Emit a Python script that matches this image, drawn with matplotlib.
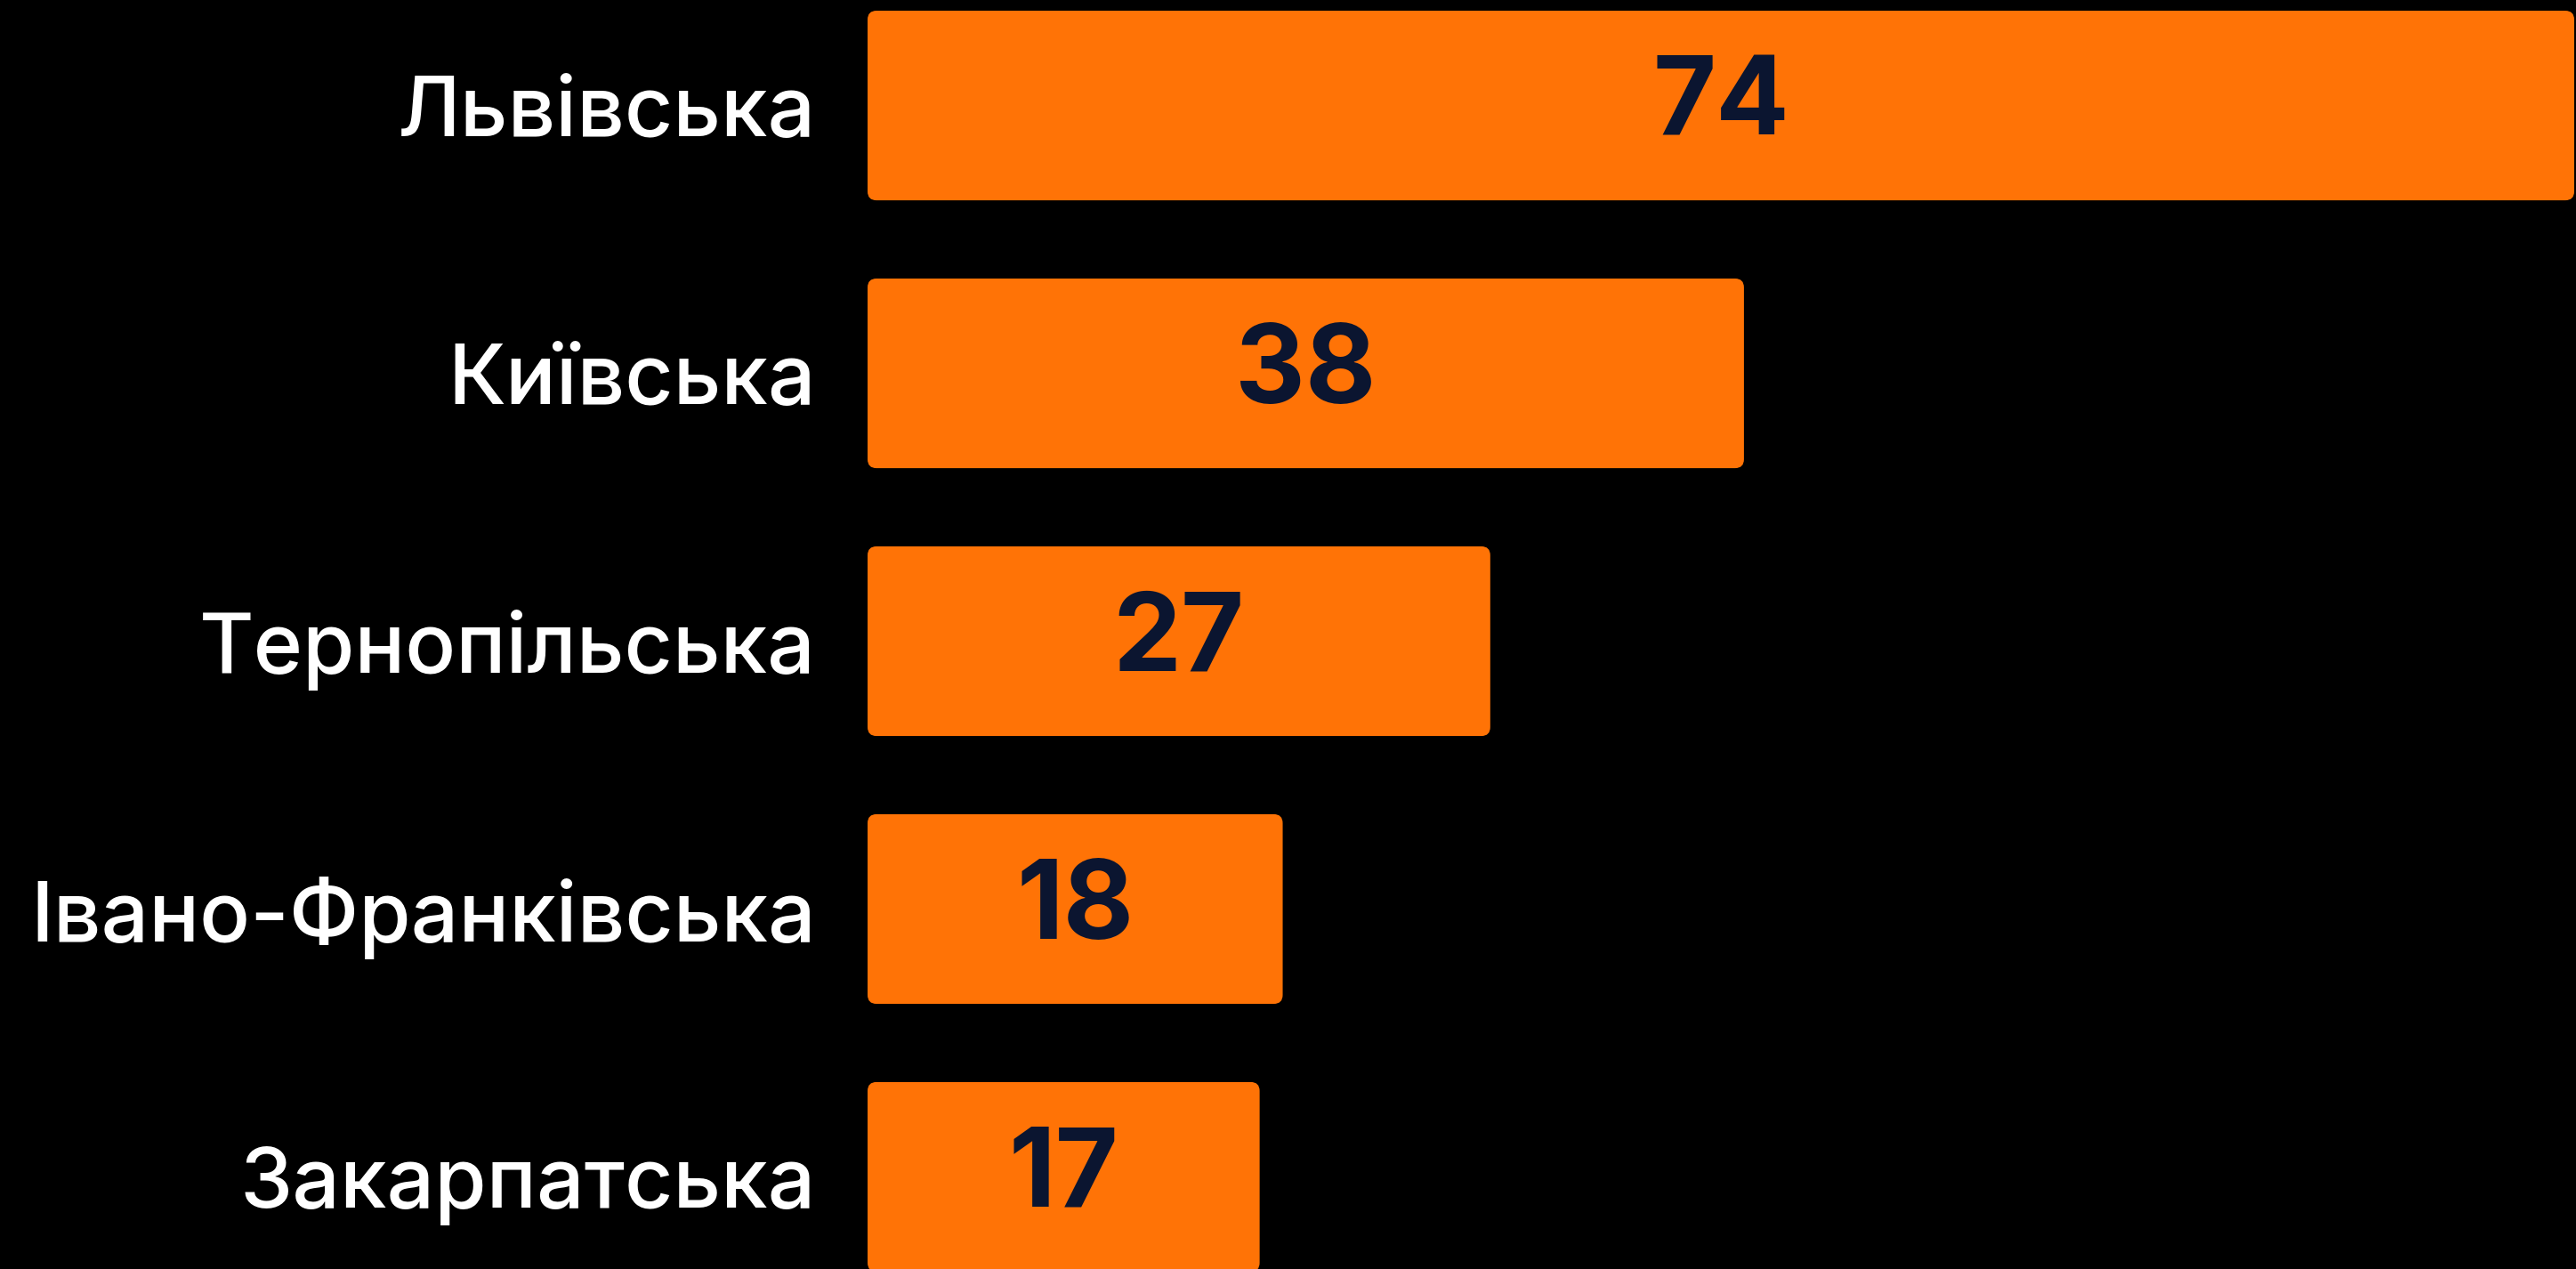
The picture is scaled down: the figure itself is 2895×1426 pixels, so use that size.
import matplotlib
matplotlib.use("Agg")
import matplotlib.pyplot as plt
from matplotlib.patches import FancyBboxPatch

# Data
regions = ["Львівська", "Київська", "Тернопільська", "Івано-Франківська", "Закарпатська"]
values = [74, 38, 27, 18, 17]

BAR_COLOR = "#FF7306"
NUM_COLOR = "#0B1530"
BG = "#000000"

plt.rcParams["font.family"] = ["Inter", "DejaVu Sans"]

W, H, DPI = 2895, 1426, 100
fig = plt.figure(figsize=(W / DPI, H / DPI), dpi=DPI, facecolor=BG)
ax = fig.add_axes([975 / W, 0, (2893 - 975) / W, 1])
ax.set_facecolor(BG)

pos = list(range(len(regions)))
ax.set_xlim(0, max(values))
ax.set_ylim(4.344, -0.394)

# px per data unit, for round corners
px_x = ax.get_position().width * W / max(values)
px_y = H / (4.344 + 0.394)
radius_px = 10

bars = ax.barh(pos, values, height=0.708, color=BAR_COLOR)
for b in bars:
    x, y = b.get_x(), b.get_y()
    w, h = b.get_width(), b.get_height()
    b.set_visible(False)
    patch = FancyBboxPatch((x, y), w, h,
                           boxstyle=f"round,pad=0,rounding_size={radius_px / px_x}",
                           mutation_aspect=px_x / px_y,
                           facecolor=BAR_COLOR, edgecolor="none", clip_on=False)
    ax.add_patch(patch)
    ax.text(x + w / 2, y + h / 2 + 0.002, f"{int(w)}", ha="center", va="center",
            fontsize=88, fontweight="bold", color=NUM_COLOR)

ax.set_yticks(pos)
ax.set_yticklabels(regions, fontsize=68, color="white", fontweight="medium")
ax.tick_params(axis="y", length=0, pad=42)
ax.set_xticks([])
for s in ax.spines.values():
    s.set_visible(False)

fig.savefig("out.png", dpi=DPI, facecolor=BG)
